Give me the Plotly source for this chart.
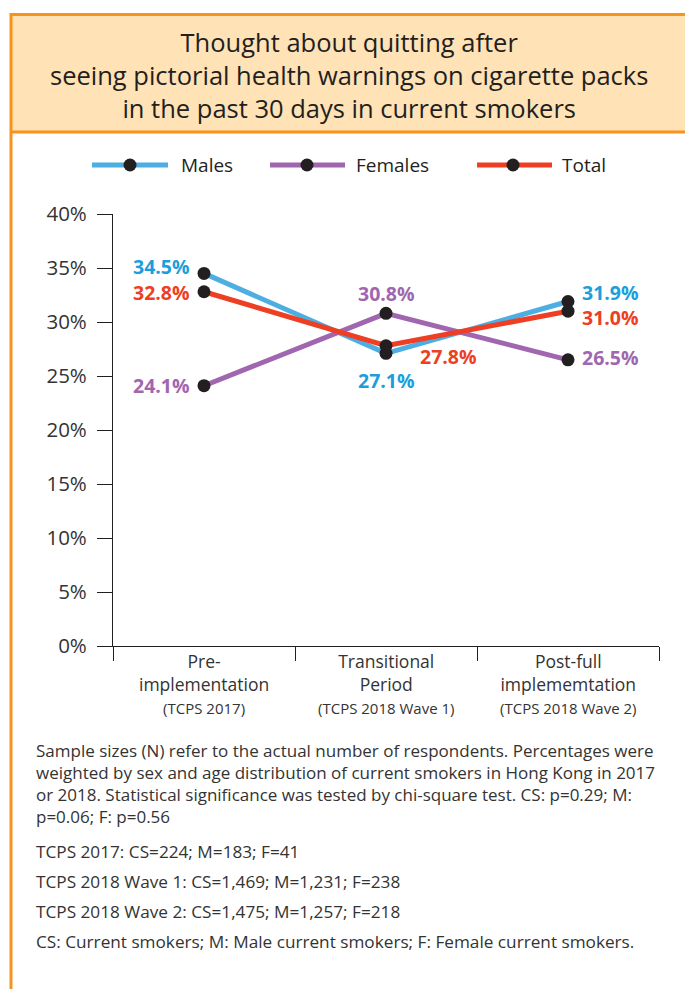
import plotly.graph_objects as go

W, H = 685, 989

# Survey waves (categories) and percentages who thought about quitting
periods = ["Pre-implementation", "Transitional Period", "Post-full implememtation"]
period_lines = [
    ["Pre-", "implementation", "(TCPS 2017)"],
    ["Transitional", "Period", "(TCPS 2018 Wave 1)"],
    ["Post-full", "implememtation", "(TCPS 2018 Wave 2)"],
]
males = [34.5, 27.1, 31.9]
females = [24.1, 30.8, 26.5]
total = [32.8, 27.8, 31.0]

series_names = ["Males", "Females", "Total"]
line_colors = ["#4DAEE2", "#A066AF", "#EE3E24"]
text_colors = ["#1A9FDC", "#A066AF", "#EE3E24"]

y_ticks = [0, 5, 10, 15, 20, 25, 30, 35, 40]

title_lines = [
    "Thought about quitting after",
    "seeing pictorial health warnings on cigarette packs",
    "in the past 30 days in current smokers",
]

note_paragraph = [
    "Sample sizes (N) refer to the actual number of respondents. Percentages were",
    "weighted by sex and age distribution of current smokers in Hong Kong in 2017",
    "or 2018. Statistical significance was tested by chi-square test. CS: p=0.29; M:",
    "p=0.06; F: p=0.56",
]
note_lines = [
    "TCPS 2017: CS=224; M=183; F=41",
    "TCPS 2018 Wave 1: CS=1,469; M=1,231; F=238",
    "TCPS 2018 Wave 2: CS=1,475; M=1,257; F=218",
    "CS: Current smokers; M: Male current smokers; F: Female current smokers.",
]
note_lines_y = [851, 881, 911, 941]

FONT = "Open Sans"
ORANGE = "#F7941D"
FILL = "#FFE2B6"
INK = "#231F20"


def px(x):
    return x / W


def py(y):
    return 1 - y / H


fig = go.Figure()

# Data series
for name, vals, col in zip(series_names, [males, females, total], line_colors):
    fig.add_trace(go.Scatter(
        x=periods, y=vals, name=name, mode="lines+markers",
        line=dict(color=col, width=5),
        marker=dict(color=INK, size=13),
        showlegend=False, hoverinfo="skip",
    ))

# Value labels: (series index, point index, xanchor, xshift, yshift)
label_spec = [
    (0, 0, "right", -12, 7), (2, 0, "right", -12, -1), (1, 0, "right", -12, 0),
    (1, 1, "center", 0, 20), (0, 1, "center", 0, -27), (2, 1, "left", 32, -11),
    (0, 2, "left", 12, 9), (2, 2, "left", 12, -6), (1, 2, "left", 12, 2),
]
all_vals = [males, females, total]
annotations = []
for si, pi, xa, xs, ys in label_spec:
    v = all_vals[si][pi]
    annotations.append(dict(
        x=periods[pi], y=v, xref="x", yref="y", text=f"{v:.1f}%",
        showarrow=False, xanchor=xa, yanchor="middle", xshift=xs, yshift=ys,
        font=dict(family=FONT, size=19.5, color=text_colors[si], weight="bold"),
    ))

# Category labels under the axis
for cat, (l1, l2, l3) in zip(periods, period_lines):
    annotations.append(dict(
        x=cat, y=py(647), xref="x", yref="paper",
        text=f"{l1}<br>{l2}<br><span style='font-size:15px'>{l3}</span>",
        showarrow=False, xanchor="center", yanchor="top",
        font=dict(family=FONT, size=17.5, color="#333333"),
    ))

# Title
annotations.append(dict(
    x=px(349), y=py(75), xref="paper", yref="paper", text="<br>".join(title_lines),
    showarrow=False, xanchor="center", yanchor="middle",
    font=dict(family=FONT, size=25.5, color=INK),
))

# Footnotes
annotations.append(dict(
    x=px(34), y=py(737), xref="paper", yref="paper", text="<br>".join(note_paragraph),
    showarrow=False, xanchor="left", yanchor="top", align="left",
    font=dict(family=FONT, size=17, color="#333333"),
))
for line, yy in zip(note_lines, note_lines_y):
    annotations.append(dict(
        x=px(34), y=py(yy), xref="paper", yref="paper", text=line,
        showarrow=False, xanchor="left", yanchor="middle",
        font=dict(family=FONT, size=17.2, color="#333333"),
    ))

shapes = [
    # title box
    dict(type="rect", xref="paper", yref="paper", x0=px(11), x1=px(W + 5),
         y0=py(14), y1=py(132), fillcolor=FILL, line=dict(width=0), layer="below"),
    dict(type="line", xref="paper", yref="paper", x0=px(10), x1=px(W + 5),
         y0=py(14.5), y1=py(14.5), line=dict(color=ORANGE, width=3)),
    dict(type="line", xref="paper", yref="paper", x0=px(10), x1=px(W + 5),
         y0=py(132), y1=py(132), line=dict(color=ORANGE, width=3)),
    dict(type="line", xref="paper", yref="paper", x0=px(11), x1=px(11),
         y0=py(13), y1=py(H + 5), line=dict(color=ORANGE, width=3)),
]

# Legend drawn as line swatches with a dot and a label
legend_items = [(92, 168, 130, 179), (270, 345, 307, 354), (477, 552, 513, 560)]
for (x0, x1, xd, xt), name, col in zip(legend_items, series_names, line_colors):
    ly = 165
    shapes.append(dict(type="line", xref="paper", yref="paper", x0=px(x0), x1=px(x1),
                       y0=py(ly), y1=py(ly), line=dict(color=col, width=5)))
    shapes.append(dict(type="circle", xref="paper", yref="paper",
                       x0=px(xd - 6.5), x1=px(xd + 6.5), y0=py(ly - 6.5), y1=py(ly + 6.5),
                       fillcolor=INK, line=dict(width=0)))
    annotations.append(dict(
        x=px(xt), y=py(ly), xref="paper", yref="paper", text=name,
        showarrow=False, xanchor="left", yanchor="middle",
        font=dict(family=FONT, size=19, color=INK),
    ))

fig.update_layout(
    width=W, height=H,
    margin=dict(l=0, r=0, t=0, b=0, pad=0, autoexpand=False),
    paper_bgcolor="white", plot_bgcolor="white",
    showlegend=False,
    annotations=annotations,
    shapes=shapes,
    xaxis=dict(
        domain=[px(113), px(659)], range=[-0.5, 2.5],
        type="category", tickson="boundaries",
        ticks="outside", ticklen=14, tickwidth=1.2, tickcolor=INK,
        showline=True, linecolor=INK, linewidth=1.2,
        showgrid=False, zeroline=False, showticklabels=False,
        automargin=False, fixedrange=True,
    ),
    yaxis=dict(
        domain=[py(646), py(214)], range=[0, 40],
        tickvals=y_ticks, ticktext=[f"{t}%" for t in y_ticks],
        ticks="outside", ticklen=15, tickwidth=1.2, tickcolor=INK,
        ticklabelstandoff=6,
        showline=True, linecolor=INK, linewidth=1.2,
        showgrid=False, zeroline=False,
        tickfont=dict(family=FONT, size=20.5, color="#333333"),
        automargin=False, fixedrange=True,
    ),
)

fig.write_html("out.html")
